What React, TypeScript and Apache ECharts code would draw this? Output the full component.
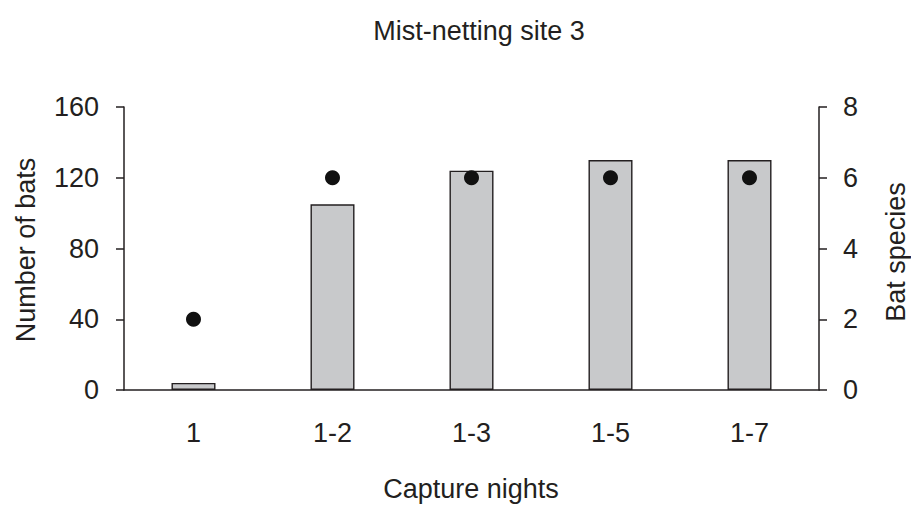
import React, { useEffect, useRef } from "react";
import * as echarts from "echarts";

const categories = ["1", "1-2", "1-3", "1-5", "1-7"];
const numberOfBats = [4, 105, 124, 130, 130];
const batSpecies = [2, 6, 6, 6, 6];
const leftTicks = { min: 0, max: 160, interval: 40 };
const rightTicks = { min: 0, max: 8, interval: 2 };
const titleText = "Mist-netting site 3";
const xName = "Capture nights";
const leftName = "Number of bats";
const rightName = "Bat species";

const FONT = "'Liberation Sans', Arial, Helvetica, sans-serif";
const INK = "#231f20";
const FS = 27;

export default function App() {
  const ref = useRef<HTMLDivElement>(null);
  useEffect(() => {
    if (!ref.current) return;
    const chart = echarts.init(ref.current, undefined, { renderer: "svg" });
    const axisLabel = { color: INK, fontSize: FS, fontFamily: FONT };
    const txt = (text: string) => ({
      text,
      fill: INK,
      fontSize: FS,
      fontFamily: FONT,
      align: "center",
      verticalAlign: "middle",
    });
    chart.setOption({
      animation: false,
      backgroundColor: "#ffffff",
      grid: { left: 124, right: 92, top: 107, bottom: 139, containLabel: false },
      graphic: [
        { type: "text", x: 479, y: 31, style: txt(titleText) },
        { type: "text", x: 471, y: 489, style: txt(xName) },
        { type: "text", x: 26, y: 250, rotation: Math.PI / 2, style: txt(leftName) },
        { type: "text", x: 896, y: 252, rotation: Math.PI / 2, style: txt(rightName) },
      ],
      xAxis: {
        type: "category",
        data: categories,
        boundaryGap: true,
        axisLine: { show: true, lineStyle: { color: INK, width: 1.5 } },
        axisTick: { show: false },
        axisLabel: { ...axisLabel, margin: 29 },
        splitLine: { show: false },
      },
      yAxis: [
        {
          type: "value",
          position: "left",
          min: leftTicks.min,
          max: leftTicks.max,
          interval: leftTicks.interval,
          axisLine: { show: true, lineStyle: { color: INK, width: 1.5 } },
          axisTick: { show: true, inside: false, length: 8, lineStyle: { color: INK, width: 1.5 } },
          axisLabel: { ...axisLabel, margin: 25 },
          splitLine: { show: false },
        },
        {
          type: "value",
          position: "right",
          min: rightTicks.min,
          max: rightTicks.max,
          interval: rightTicks.interval,
          axisLine: { show: true, lineStyle: { color: INK, width: 1.5 } },
          axisTick: { show: true, inside: false, length: 8, lineStyle: { color: INK, width: 1.5 } },
          axisLabel: { ...axisLabel, margin: 24 },
          splitLine: { show: false },
        },
      ],
      series: [
        {
          type: "bar",
          name: leftName,
          data: numberOfBats,
          yAxisIndex: 0,
          barWidth: 44,
          itemStyle: { color: "#c8c9cb", borderColor: INK, borderWidth: 1.4 },
        },
        {
          type: "scatter",
          name: rightName,
          data: batSpecies,
          yAxisIndex: 1,
          symbol: "circle",
          symbolSize: 15,
          itemStyle: { color: "#111111", opacity: 1 },
          z: 5,
        },
      ],
    });
    return () => chart.dispose();
  }, []);
  return (
    <div
      ref={ref}
      style={{ position: "fixed", left: 0, top: 0, width: 911, height: 529, background: "#fff" }}
    />
  );
}
